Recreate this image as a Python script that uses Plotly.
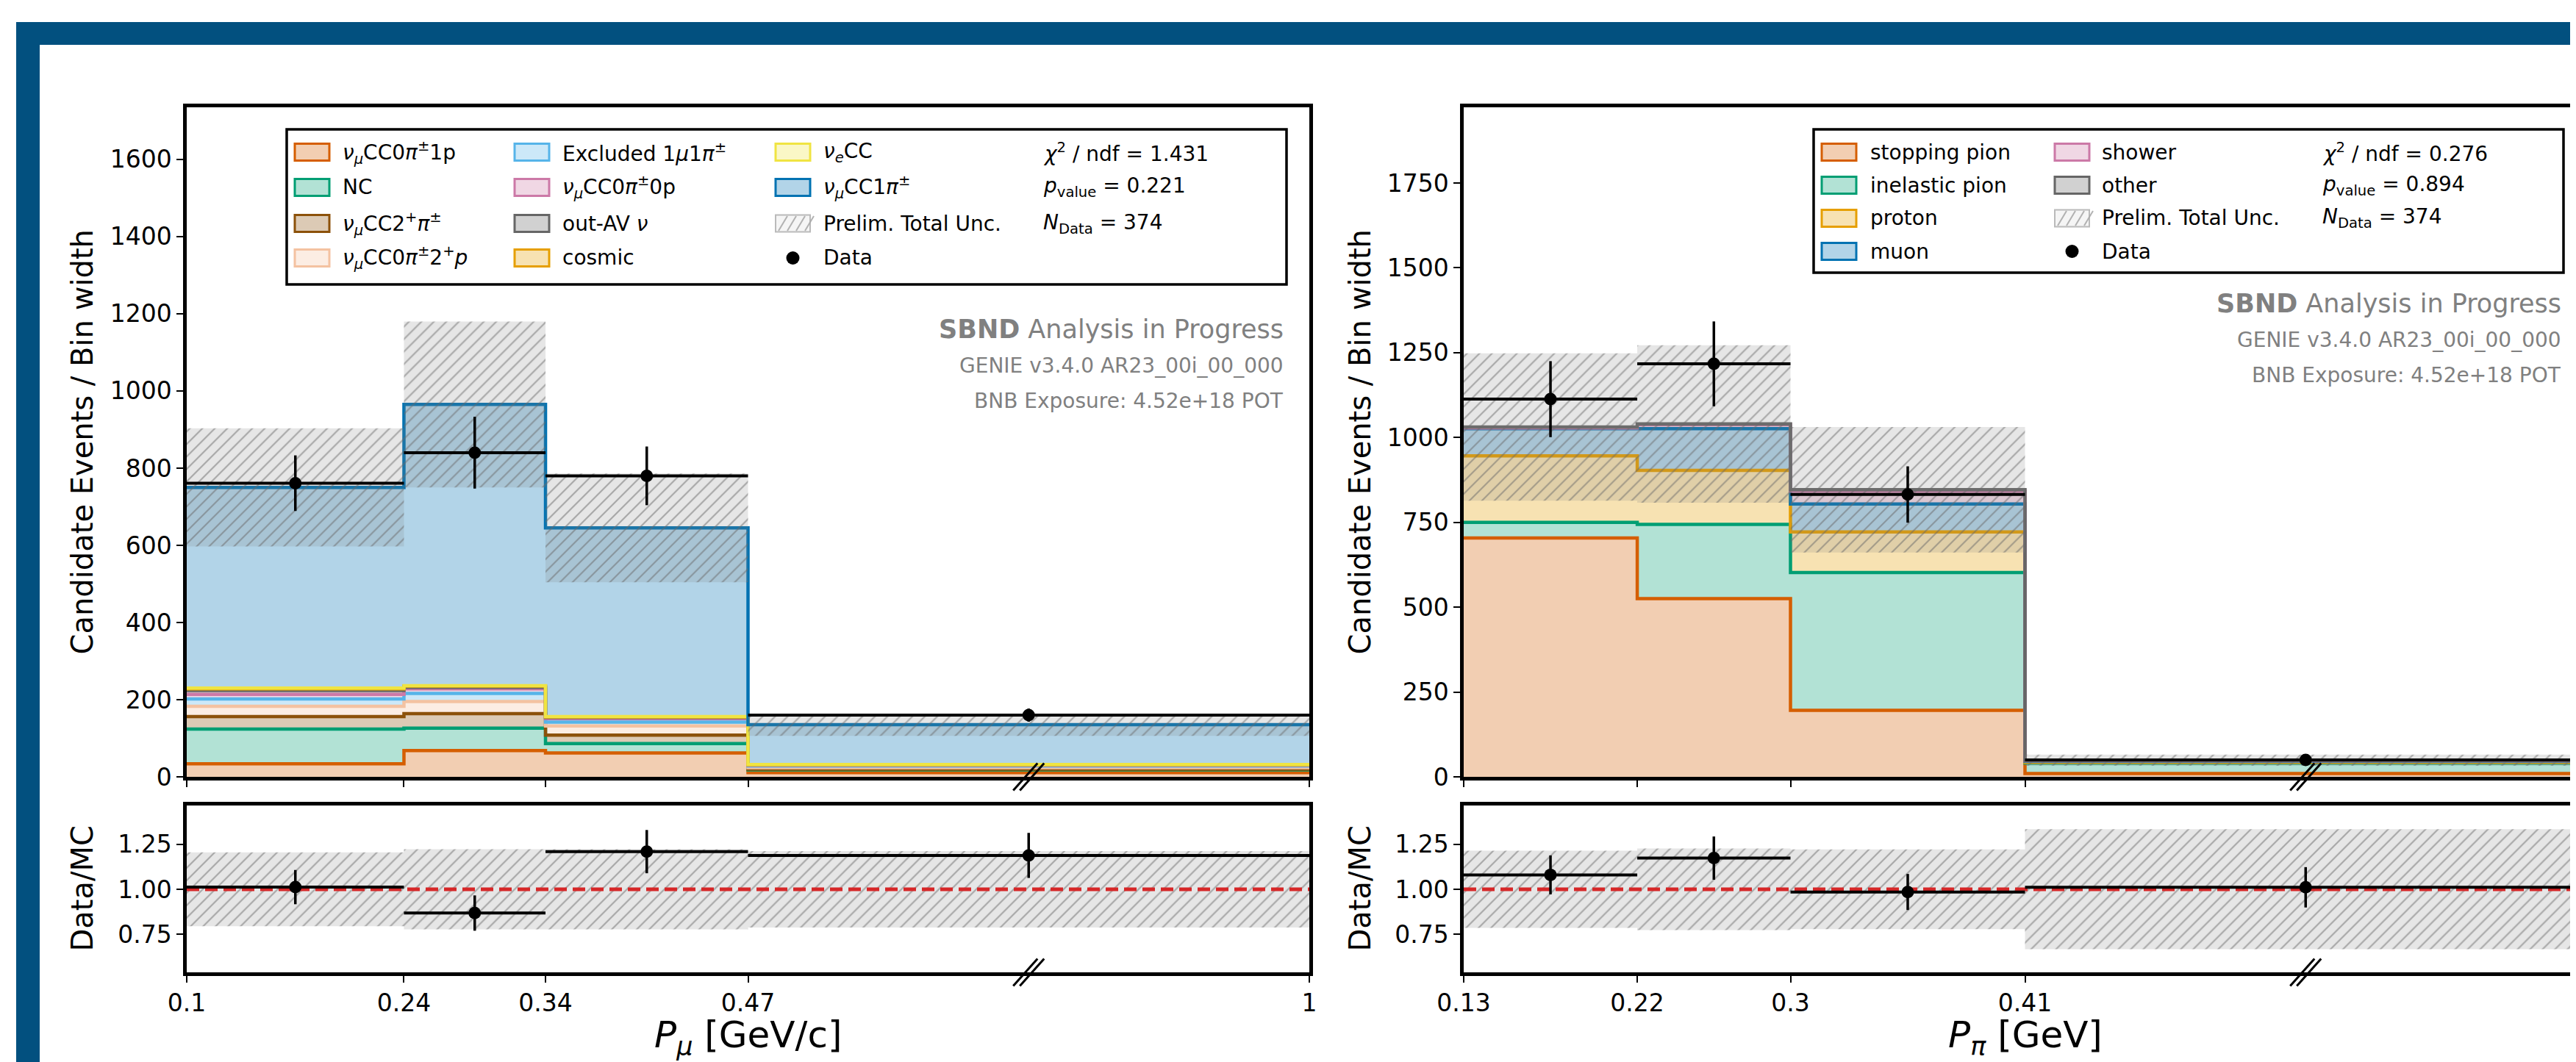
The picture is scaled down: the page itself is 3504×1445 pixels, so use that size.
import numpy as np
import plotly.graph_objects as go

W, H = 3504, 1445
FONT = "DejaVu Sans"

# ---------------- P_mu panel (left) ----------------
mu_edges = [0.1, 0.24, 0.34, 0.47, 1.0]
mu_tick_labels = ["0.1", "0.24", "0.34", "0.47", "1"]
mu_labels = [
    "<i>ν</i><sub><i>μ</i></sub>CC0<i>π</i><sup>±</sup>1p",
    "NC",
    "<i>ν</i><sub><i>μ</i></sub>CC2<sup>+</sup><i>π</i><sup>±</sup>",
    "<i>ν</i><sub><i>μ</i></sub>CC0<i>π</i><sup>±</sup>2<sup>+</sup><i>p</i>",
    "Excluded 1<i>μ</i>1<i>π</i><sup>±</sup>",
    "<i>ν</i><sub><i>μ</i></sub>CC0<i>π</i><sup>±</sup>0p",
    "out-AV <i>ν</i>",
    "cosmic",
    "<i>ν</i><sub><i>e</i></sub>CC",
    "<i>ν</i><sub><i>μ</i></sub>CC1<i>π</i><sup>±</sup>",
]
mu_cc0pi1p = [34, 68, 62, 11]
mu_nc = [90, 58, 24, 7]
mu_cc2pi = [32, 38, 22, 2]
mu_cc0pi2p = [27, 31, 24, 4]
mu_excluded = [19, 21, 10, 4]
mu_cc0pi0p = [12, 12, 9, 2]
mu_outav = [10, 4, 3, 1]
mu_cosmic = [4, 3, 1, 0.5]
mu_nuecc = [2, 1, 1, 0.5]
mu_cc1pi = [520, 729, 489, 103]
mu_unc = [153, 215, 141, 29]
mu_data = [761, 840, 780, 160]
mu_data_err = [72, 93, 76, 17]
mu_ratio = [1.012, 0.868, 1.209, 1.188]
mu_ratio_err = [0.095, 0.098, 0.12, 0.125]
mu_ratio_unc = [0.205, 0.222, 0.222, 0.212]
mu_stats = ["1.431", "0.221", "374"]

# ---------------- P_pi panel (right) ----------------
pi_edges = [0.13, 0.22, 0.3, 0.41, 2.0]
pi_tick_labels = ["0.13", "0.22", "0.3", "0.41", "2"]
pi_labels = ["stopping pion", "inelastic pion", "proton", "muon", "shower", "other"]
pi_stopping = [704, 525, 196, 10]
pi_inelastic = [46, 219, 406, 30.5]
pi_proton = [196, 159, 120, 2.5]
pi_muon = [80, 123, 82, 3]
pi_shower = [2, 12, 38, 1.5]
pi_other = [3, 2, 4, 1.5]
pi_unc = [217, 232, 185, 16.5]
pi_data = [1113, 1217, 832, 50]
pi_data_err = [112, 125, 83, 5.5]
pi_ratio = [1.08, 1.173, 0.985, 1.011]
pi_ratio_err = [0.108, 0.12, 0.1, 0.112]
pi_ratio_unc = [0.214, 0.226, 0.221, 0.333]
pi_stats = ["0.276", "0.894", "374"]

# ---------------- styles / layout constants ----------------
mu_colors = ["#D55E00", "#009E73", "#8C510A", "#F4C2A1", "#56B4E9",
             "#CC79A7", "#666666", "#E69F00", "#F0E442", "#0072B2"]
pi_colors = ["#D55E00", "#009E73", "#E69F00", "#0072B2", "#CC79A7", "#666666"]
HATCH_BG = "rgba(128,128,128,0.2)"
HATCH_FG = "rgba(105,105,105,1)"
FRAME_BLUE = "#02507F"

LEFT_AX = (246, 1773)
RIGHT_AX = (1983, 3510)
MAIN_Y = (138, 1049)
RATIO_Y = (1088, 1315)
# broken axis: display position of each bin edge as a fraction of the axis width
mu_edge_frac = [0.0, 0.1935, 0.3196, 0.5, 1.0]
pi_edge_frac = [0.0, 0.1546, 0.2911, 0.5, 1.0]


def px(x):
    return x / W


def py(y):
    return 1 - y / H


def rgba(hexc, a):
    h = hexc.lstrip("#")
    return "rgba(%d,%d,%d,%s)" % (int(h[0:2], 16), int(h[2:4], 16), int(h[4:6], 16), a)


def step(v):
    v = list(v)
    return v + [v[-1]]


fig = go.Figure()


def add_panel(sm, sr, edges, frac, comps, colors, unc, data, data_err,
              ratio, ratio_err, ratio_unc, xmax_frac):
    xm, ym = "x" + sm, "y" + sm
    xr, yr = "x" + sr, "y" + sr
    xpos = np.interp(edges, edges, frac)
    mids = [(a + b) / 2 for a, b in zip(edges[:-1], edges[1:])]
    centers = np.interp(mids, edges, frac)
    halfw = np.diff(xpos) / 2
    common = dict(hoverinfo="skip", showlegend=False)

    # stacked MC
    fig.add_trace(go.Scatter(x=xpos, y=step([0] * len(data)), mode="lines",
                             line=dict(width=0, shape="hv"), xaxis=xm, yaxis=ym, **common))
    cum = np.zeros(len(data))
    for vals, col in zip(comps, colors):
        cum = cum + np.array(vals, dtype=float)
        fig.add_trace(go.Scatter(x=xpos, y=step(cum), mode="lines",
                                 line=dict(shape="hv", color=col, width=4.5),
                                 fill="tonexty", fillcolor=rgba(col, 0.3),
                                 xaxis=xm, yaxis=ym, **common))
    total = cum
    unc = np.array(unc, dtype=float)
    fig.add_trace(go.Scatter(x=xpos, y=step(total - unc), mode="lines",
                             line=dict(width=0, shape="hv"), xaxis=xm, yaxis=ym, **common))
    fig.add_trace(go.Scatter(x=xpos, y=step(total + unc), mode="lines",
                             line=dict(width=0, shape="hv"), fill="tonexty",
                             fillcolor=HATCH_BG,
                             fillpattern=dict(shape="/", fgcolor=HATCH_FG, bgcolor=HATCH_BG,
                                              size=12, solidity=0.18),
                             xaxis=xm, yaxis=ym, **common))
    fig.add_trace(go.Scatter(x=centers, y=data, mode="markers",
                             marker=dict(color="black", size=17),
                             error_y=dict(type="data", array=data_err, color="black",
                                          thickness=3.5, width=0),
                             error_x=dict(type="data", array=halfw, color="black",
                                          thickness=4, width=0),
                             xaxis=xm, yaxis=ym, **common))

    # ratio
    ru = np.array(ratio_unc, dtype=float)
    fig.add_trace(go.Scatter(x=xpos, y=step(1 - ru), mode="lines",
                             line=dict(width=0, shape="hv"), xaxis=xr, yaxis=yr, **common))
    fig.add_trace(go.Scatter(x=xpos, y=step(1 + ru), mode="lines",
                             line=dict(width=0, shape="hv"), fill="tonexty",
                             fillcolor=HATCH_BG,
                             fillpattern=dict(shape="/", fgcolor=HATCH_FG, bgcolor=HATCH_BG,
                                              size=12, solidity=0.18),
                             xaxis=xr, yaxis=yr, **common))
    fig.add_trace(go.Scatter(x=[xpos[0], xmax_frac], y=[1, 1], mode="lines",
                             line=dict(color="#D62728", width=5, dash="17px,8px"),
                             xaxis=xr, yaxis=yr, **common))
    fig.add_trace(go.Scatter(x=centers, y=ratio, mode="markers",
                             marker=dict(color="black", size=17),
                             error_y=dict(type="data", array=ratio_err, color="black",
                                          thickness=3.5, width=0),
                             error_x=dict(type="data", array=halfw, color="black",
                                          thickness=4, width=0),
                             xaxis=xr, yaxis=yr, **common))
    return centers


mu_comps = [mu_cc0pi1p, mu_nc, mu_cc2pi, mu_cc0pi2p, mu_excluded, mu_cc0pi0p,
            mu_outav, mu_cosmic, mu_nuecc, mu_cc1pi]
pi_comps = [pi_stopping, pi_inelastic, pi_proton, pi_muon, pi_shower, pi_other]

right_xmax = (W - RIGHT_AX[0]) / (RIGHT_AX[1] - RIGHT_AX[0])
mu_centers = add_panel("", "2", mu_edges, mu_edge_frac, mu_comps, mu_colors, mu_unc,
                       mu_data, mu_data_err, mu_ratio, mu_ratio_err, mu_ratio_unc, 1.0)
pi_centers = add_panel("3", "4", pi_edges, pi_edge_frac, pi_comps, pi_colors, pi_unc,
                       pi_data, pi_data_err, pi_ratio, pi_ratio_err, pi_ratio_unc, right_xmax)

# ---------------- axes ----------------
tickfont = dict(family=FONT, size=33, color="black")
axline = dict(showline=True, linewidth=4.5, linecolor="black", showgrid=False,
              zeroline=False, ticks="outside", ticklen=9, tickwidth=2, tickcolor="black",
              tickfont=tickfont, automargin=False)

left_dom = [px(LEFT_AX[0]), px(LEFT_AX[1])]
right_dom = [px(RIGHT_AX[0]), 1.0]
main_dom = [py(MAIN_Y[1]), py(MAIN_Y[0])]
ratio_dom = [py(RATIO_Y[1]), py(RATIO_Y[0])]

fig.update_layout(
    xaxis=dict(domain=left_dom, anchor="y", range=[0, 1], tickvals=mu_edge_frac,
               showticklabels=False, mirror=True, **axline),
    yaxis=dict(domain=main_dom, anchor="x", range=[0, 1735],
               tickvals=list(range(0, 1601, 200)), mirror=True, **axline),
    xaxis2=dict(domain=left_dom, anchor="y2", range=[0, 1], tickvals=mu_edge_frac,
                ticktext=mu_tick_labels, mirror=True, **axline),
    yaxis2=dict(domain=ratio_dom, anchor="x2", range=[0.539, 1.465],
                tickvals=[0.75, 1.0, 1.25], ticktext=["0.75", "1.00", "1.25"],
                mirror=True, **axline),
    xaxis3=dict(domain=right_dom, anchor="y3", range=[0, right_xmax], tickvals=pi_edge_frac,
                showticklabels=False, mirror=True, **axline),
    yaxis3=dict(domain=main_dom, anchor="x3", range=[0, 1973],
                tickvals=list(range(0, 1751, 250)), mirror=False, **axline),
    xaxis4=dict(domain=right_dom, anchor="y4", range=[0, right_xmax], tickvals=pi_edge_frac,
                ticktext=pi_tick_labels, mirror=True, **axline),
    yaxis4=dict(domain=ratio_dom, anchor="x4", range=[0.539, 1.465],
                tickvals=[0.75, 1.0, 1.25], ticktext=["0.75", "1.00", "1.25"],
                mirror=False, **axline),
)

shapes = []
annotations = []


def text(x, y, s, size, xanchor="left", color="black", angle=0, yanchor="middle"):
    annotations.append(dict(x=px(x), y=py(y), xref="paper", yref="paper", text=s,
                            showarrow=False, xanchor=xanchor, yanchor=yanchor,
                            textangle=angle,
                            font=dict(family=FONT, size=size, color=color)))


def rect(x0, y0, x1, y1, fill, line, lw):
    shapes.append(dict(type="rect", xref="paper", yref="paper", x0=px(x0), x1=px(x1),
                       y0=py(y1), y1=py(y0), fillcolor=fill,
                       line=dict(color=line, width=lw)))


def seg(x0, y0, x1, y1, color, lw):
    shapes.append(dict(type="line", xref="paper", yref="paper", x0=px(x0), x1=px(x1),
                       y0=py(y0), y1=py(y1), line=dict(color=color, width=lw)))


# blue frame
rect(14, 22, W + 10, 53, FRAME_BLUE, FRAME_BLUE, 0)
rect(14, 22, 46, H + 10, FRAME_BLUE, FRAME_BLUE, 0)

# axis titles
text(103, (MAIN_Y[0] + MAIN_Y[1]) / 2, "Candidate Events / Bin width", 40, "center", angle=-90)
text(103, (RATIO_Y[0] + RATIO_Y[1]) / 2, "Data/MC", 40, "center", angle=-90)
text(1841, (MAIN_Y[0] + MAIN_Y[1]) / 2, "Candidate Events / Bin width", 40, "center", angle=-90)
text(1841, (RATIO_Y[0] + RATIO_Y[1]) / 2, "Data/MC", 40, "center", angle=-90)
text((LEFT_AX[0] + LEFT_AX[1]) / 2, 1403, "<i>P</i><sub><i>μ</i></sub> [GeV/c]", 50, "center")
text((RIGHT_AX[0] + RIGHT_AX[1]) / 2, 1403, "<i>P</i><sub><i>π</i></sub> [GeV]", 50, "center")
# last tick label of the right panel, cut by the picture edge
text(RIGHT_AX[1], 1349, pi_tick_labels[-1], 33, "center")

# break marks on the compressed last bin
for ax, centers in ((LEFT_AX, mu_centers), (RIGHT_AX, pi_centers)):
    cx = ax[0] + centers[-1] * (ax[1] - ax[0])
    for cy in (MAIN_Y[1], RATIO_Y[1]):
        for off in (-4.5, 4.5):
            seg(cx + off - 16.5, cy + 18.5, cx + off + 16.5, cy - 18.5, "black", 3)


def legend_patch(x0, yc, col):
    rect(x0, yc - 11.5, x0 + 47, yc + 11.5, rgba(col, 0.3), col, 3)


def legend_hatch(x0, yc):
    rect(x0, yc - 11.5, x0 + 47, yc + 11.5, "rgba(128,128,128,0.08)", "rgba(170,170,170,0.8)", 2)
    for k in range(4):
        xa = x0 + 4 + k * 12
        seg(xa, yc + 10, xa + 12, yc - 10, "rgba(170,170,170,0.9)", 2)


def legend_dot(xc, yc):
    shapes.append(dict(type="circle", xref="paper", yref="paper",
                       x0=px(xc - 9), x1=px(xc + 9), y0=py(yc + 9), y1=py(yc - 9),
                       fillcolor="black", line=dict(color="black", width=0)))


def stats_text(x, rows, st):
    text(x, rows[0], "<i>χ</i><sup>2</sup> / ndf = " + st[0], 28)
    text(x, rows[1], "<i>p</i><sub>value</sub> = " + st[1], 28)
    text(x, rows[2], "<i>N</i><sub>Data</sub> = " + st[2], 28)


# left legend
rect(382, 168, 1742, 379, "white", "black", 3.5)
mu_rows = [199, 247, 296, 343]
mu_patch_x = [393, 692, 1047]
mu_text_x = [456, 755, 1110]
for k in range(10):
    col_i, row_i = divmod(k, 4)
    legend_patch(mu_patch_x[col_i], mu_rows[row_i], mu_colors[k])
    text(mu_text_x[col_i], mu_rows[row_i], mu_labels[k], 28)
legend_hatch(mu_patch_x[2], mu_rows[2])
text(mu_text_x[2], mu_rows[2], "Prelim. Total Unc.", 28)
legend_dot(mu_patch_x[2] + 23.5, mu_rows[3])
text(mu_text_x[2], mu_rows[3], "Data", 28)
stats_text(1409, mu_rows, mu_stats)

# right legend
rect(2459, 168, 3479, 363, "white", "black", 3.5)
pi_rows = [199, 244, 289, 334]
pi_patch_x = [2470, 2787]
pi_text_x = [2534, 2849]
for k in range(6):
    col_i, row_i = divmod(k, 4)
    legend_patch(pi_patch_x[col_i], pi_rows[row_i], pi_colors[k])
    text(pi_text_x[col_i], pi_rows[row_i], pi_labels[k], 28)
legend_hatch(pi_patch_x[1], pi_rows[2])
text(pi_text_x[1], pi_rows[2], "Prelim. Total Unc.", 28)
legend_dot(pi_patch_x[1] + 23.5, pi_rows[3])
text(pi_text_x[1], pi_rows[3], "Data", 28)
stats_text(3149, pi_rows, pi_stats)

# watermark
for xr_, ys in ((1740, (440, 490, 538)), (3478, (405, 455, 502))):
    text(xr_, ys[0], "<b>SBND</b> Analysis in Progress", 35, "right", color="#808080")
    text(xr_, ys[1], "GENIE v3.4.0 AR23_00i_00_000", 28, "right", color="#808080")
    text(xr_, ys[2], "BNB Exposure: 4.52e+18 POT", 28, "right", color="#808080")

fig.update_layout(
    width=W, height=H, margin=dict(l=0, r=0, t=0, b=0),
    paper_bgcolor="white", plot_bgcolor="white", showlegend=False,
    shapes=shapes, annotations=annotations,
    font=dict(family=FONT, color="black"),
)

fig.write_html("out.html")
